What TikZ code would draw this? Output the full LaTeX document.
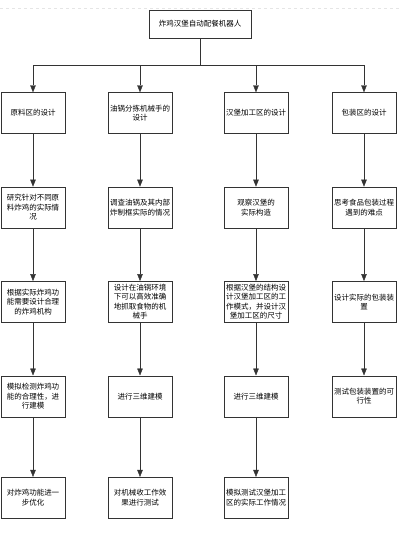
\documentclass[tikz,border=0pt]{standalone}
\usepackage{fontspec}
\usepackage{tikz}
\usetikzlibrary{positioning,arrows.meta}
\newfontfamily\cjk{Noto Sans CJK SC}

\begin{document}
\begin{tikzpicture}[x=1pt, y=-1pt,
        block/.style={draw=black!80, rectangle, minimum height=41pt, minimum width=64pt,
            inner xsep=2pt, inner ysep=1pt, align=center, font=\cjk\fontsize{7.5}{9.5}\selectfont},
        arrow/.style={draw=black!80, -{Triangle[length=7pt,width=5.5pt]}},
        link/.style={draw=black!80}
    ]
        \useasboundingbox (0,0) rectangle (400,547);
        \draw[black!10, dashed] (0,8) -- (400,8);

        % Root
        \node [block, minimum width=102pt, minimum height=28pt] (root) at (200,24) {炸鸡汉堡自动配餐机器人};
        \coordinate (bus) at (200,65);

        % Level 1
        \node [block] (a1) at (33,113) {原料区的设计};
        \node [block] (b1) at (140,113) {油锅分拣机械手的\\设计};
        \node [block] (c1) at (256,113) {汉堡加工区的设计};
        \node [block] (d1) at (364,113) {包装区的设计};

        % Raw material column
        \node [block, below=53pt of a1] (a2) {研究针对不同原\\料炸鸡的实际情\\况};
        \node [block, below=53pt of a2] (a3) {根据实际炸鸡功\\能需要设计合理\\的炸鸡机构};
        \node [block, below=53pt of a3] (a4) {模拟检测炸鸡功\\能的合理性，进\\行建模};
        \node [block, below=60pt of a4] (a5) {对炸鸡功能进一\\步优化};

        % Fryer gripper column
        \node [block, below=53pt of b1] (b2) {调查油锅及其内部\\炸制框实际的情况};
        \node [block, below=53pt of b2] (b3) {设计在油锅环境\\下可以高效准确\\地抓取食物的机\\械手};
        \node [block, below=53pt of b3] (b4) {进行三维建模};
        \node [block, below=60pt of b4] (b5) {对机械收工作效\\果进行测试};

        % Burger column
        \node [block, below=53pt of c1] (c2) {观察汉堡的\\实际构造};
        \node [block, below=53pt of c2] (c3) {根据汉堡的结构设\\计汉堡加工区的工\\作模式，并设计汉\\堡加工区的尺寸};
        \node [block, below=53pt of c3] (c4) {进行三维建模};
        \node [block, below=60pt of c4] (c5) {模拟测试汉堡加工\\区的实际工作情况};

        % Packing column
        \node [block, below=53pt of d1] (d2) {思考食品包装过程\\遇到的难点};
        \node [block, below=53pt of d2] (d3) {设计实际的包装装\\置};
        \node [block, below=53pt of d3] (d4) {测试包装装置的可\\行性};

        \draw [link] (root) -- (bus);
        \foreach \col in {a,b,c,d}
            \draw [arrow] (bus) -| (\col1.north);

        \foreach \from/\to in {a1/a2,a2/a3,a3/a4,a4/a5,
                               b1/b2,b2/b3,b3/b4,b4/b5,
                               c1/c2,c2/c3,c3/c4,c4/c5,
                               d1/d2,d2/d3,d3/d4}
            \draw [arrow] (\from) -- (\to);
    \end{tikzpicture}
\end{document}
